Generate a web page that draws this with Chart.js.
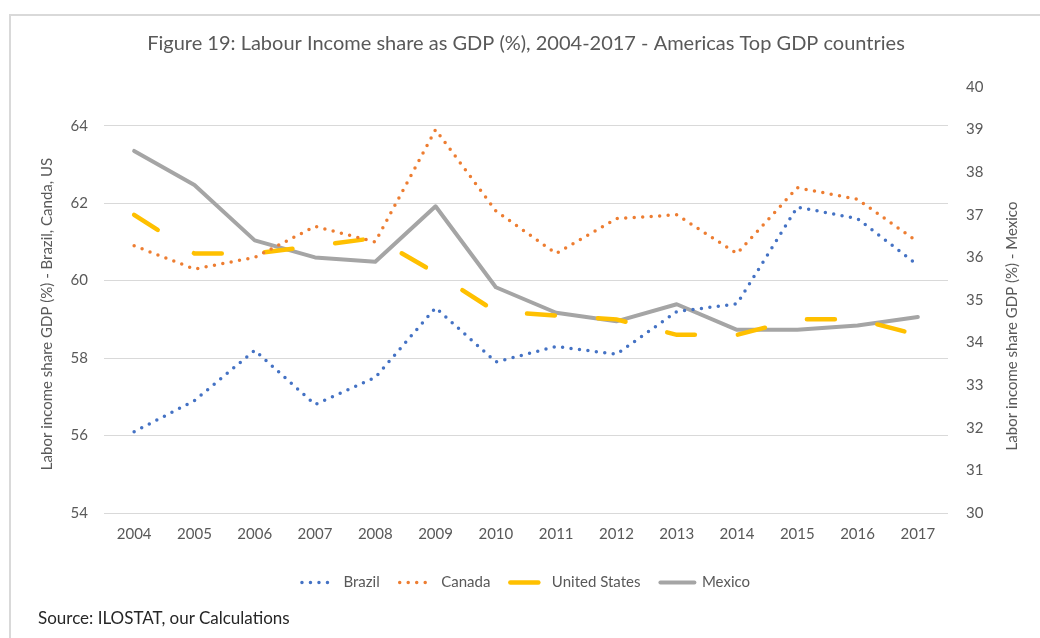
<!DOCTYPE html>
<html>
<head>
<meta charset="utf-8">
<script src="https://cdn.jsdelivr.net/npm/chart.js@4.4.1/dist/chart.umd.min.js"></script>
<style>
  html, body { margin: 0; padding: 0; background: #fff; }
  body { width: 1040px; height: 638px; position: relative; overflow: hidden; font-family: Lato, sans-serif; }
  .frame { position: absolute; left: 9px; top: 14px; width: 1100px; height: 700px; border-top: 2px solid #d9d9d9; border-left: 2px solid #d9d9d9; }
  #wrap { position: absolute; left: 0; top: 0; width: 1040px; height: 638px; }
  .source { position: absolute; left: 38px; top: 607px; font-size: 17px; color: #262626; }
</style>
</head>
<body>
<div class="frame"></div>
<div id="wrap"><canvas id="chart"></canvas></div>
<div class="source">Source: ILOSTAT, our Calculations</div>
<script>
const years = ["2004", "2005", "2006", "2007", "2008", "2009", "2010", "2011", "2012", "2013", "2014", "2015", "2016", "2017"]

// left axis (%)
const brazil = [56.1, 56.9, 58.2, 56.8, 57.5, 59.3, 57.9, 58.3, 58.1, 59.2, 59.4, 61.9, 61.6, 60.4]
const canada = [60.9, 60.3, 60.6, 61.4, 61.0, 63.9, 61.8, 60.7, 61.6, 61.7, 60.7, 62.4, 62.1, 61.0]
const unitedStates = [61.7, 60.7, 60.7, 60.9, 61.1, 60.2, 59.2, 59.1, 59.0, 58.6, 58.6, 59.0, 59.0, 58.6]

// right axis (%)
const mexico = [38.5, 37.7, 36.4, 36.0, 35.9, 37.2, 35.3, 34.7, 34.5, 34.9, 34.3, 34.3, 34.4, 34.6]

const leftTicks = [54, 56, 58, 60, 62, 64]
const rightTicks = [30, 31, 32, 33, 34, 35, 36, 37, 38, 39, 40]

const grey = "#595959"
const font = (size) => ({ family: "Lato", size })

// Axis titles drawn by hand: both read bottom-to-top, and sit a little below centre.
const axisTitles = {
  id: "axisTitles",
  afterDraw(chart) {
    const { ctx, chartArea } = chart
    const mid = (chartArea.top + chartArea.bottom) / 2
    const draw = (text, x, y) => {
      ctx.save()
      ctx.translate(x, y)
      ctx.rotate(-Math.PI / 2)
      ctx.font = "15px Lato"
      ctx.fillStyle = grey
      ctx.textAlign = "center"
      ctx.textBaseline = "middle"
      ctx.fillText(text, 0, 0)
      ctx.restore()
    }
    draw("Labor income share GDP (%) - Brazil, Canda, US", chart.scales.y.left + 47, mid + 14)
    draw("Labor income share GDP (%) - Mexico", chart.scales.y1.left + 64, mid + 26)
  },
}

const dotted = (color) => ({
  borderColor: color,
  backgroundColor: color,
  borderWidth: 3.5,
  borderDash: [0, 8.5],
  borderCapStyle: "round",
})

// legend samples take the dataset's own line style (not the point style)
const legendLabels = (chart) =>
  Chart.defaults.plugins.legend.labels.generateLabels(chart).map((item) => {
    const ds = chart.data.datasets[item.datasetIndex]
    return {
      ...item,
      strokeStyle: ds.borderColor,
      lineWidth: ds.borderWidth,
      lineDash: ds.borderDash || [],
      lineCap: ds.borderCapStyle || "butt",
    }
  })

new Chart(document.getElementById("chart"), {
  type: "line",
  data: {
    labels: years,
    datasets: [
      { label: "Brazil", data: brazil, yAxisID: "y", ...dotted("#4472C4") },
      { label: "Canada", data: canada, yAxisID: "y", ...dotted("#ED7D31") },
      {
        label: "United States", data: unitedStates, yAxisID: "y",
        borderColor: "#FFC000", backgroundColor: "#FFC000",
        borderWidth: 4.5, borderDash: [28, 43], borderCapStyle: "round",
      },
      {
        label: "Mexico", data: mexico, yAxisID: "y1",
        borderColor: "#A5A5A5", backgroundColor: "#A5A5A5",
        borderWidth: 4, borderCapStyle: "round", borderJoinStyle: "round",
      },
    ],
  },
  options: {
    responsive: true,
    maintainAspectRatio: false,
    animation: false,
    layout: { padding: { left: 0, right: 0, top: 0, bottom: 38 } },
    elements: { point: { radius: 0, hoverRadius: 0 }, line: { tension: 0 } },
    scales: {
      x: {
        offset: true,
        grid: { display: false, drawTicks: false },
        border: { display: false },
        ticks: { color: grey, font: font(15), padding: 12 },
        afterFit: (s) => { s.height = 42 },
      },
      y: {
        position: "left",
        min: 54, max: 65,
        ticks: { stepSize: 2, color: grey, font: font(15), padding: 16 },
        afterBuildTicks: (s) => { s.ticks = leftTicks.map((v) => ({ value: v })) },
        grid: { color: "#d9d9d9", lineWidth: 1, drawTicks: false },
        border: { display: false },
        afterFit: (s) => { s.width = 104 },
      },
      y1: {
        position: "right",
        min: 30, max: 40,
        ticks: { stepSize: 1, color: grey, font: font(15), padding: 18 },
        afterBuildTicks: (s) => { s.ticks = rightTicks.map((v) => ({ value: v })) },
        grid: { display: false, drawTicks: false },
        border: { display: false },
        afterFit: (s) => { s.width = 92 },
      },
    },
    plugins: {
      title: {
        display: true,
        fullSize: false,
        text: "Figure 19: Labour Income share as GDP (%), 2004-2017 - Americas Top GDP countries",
        color: grey,
        font: { family: "Lato", size: 20, weight: "normal" },
        padding: { top: 32, bottom: 31 },
      },
      legend: {
        position: "bottom",
        fullSize: false,
        labels: {
          usePointStyle: true,
          pointStyle: "line",
          pointStyleWidth: 34,
          color: grey,
          font: font(15),
          padding: 20,
          generateLabels: legendLabels,
        },
      },
      tooltip: { enabled: false },
    },
  },
  plugins: [axisTitles],
})
</script>
</body>
</html>
